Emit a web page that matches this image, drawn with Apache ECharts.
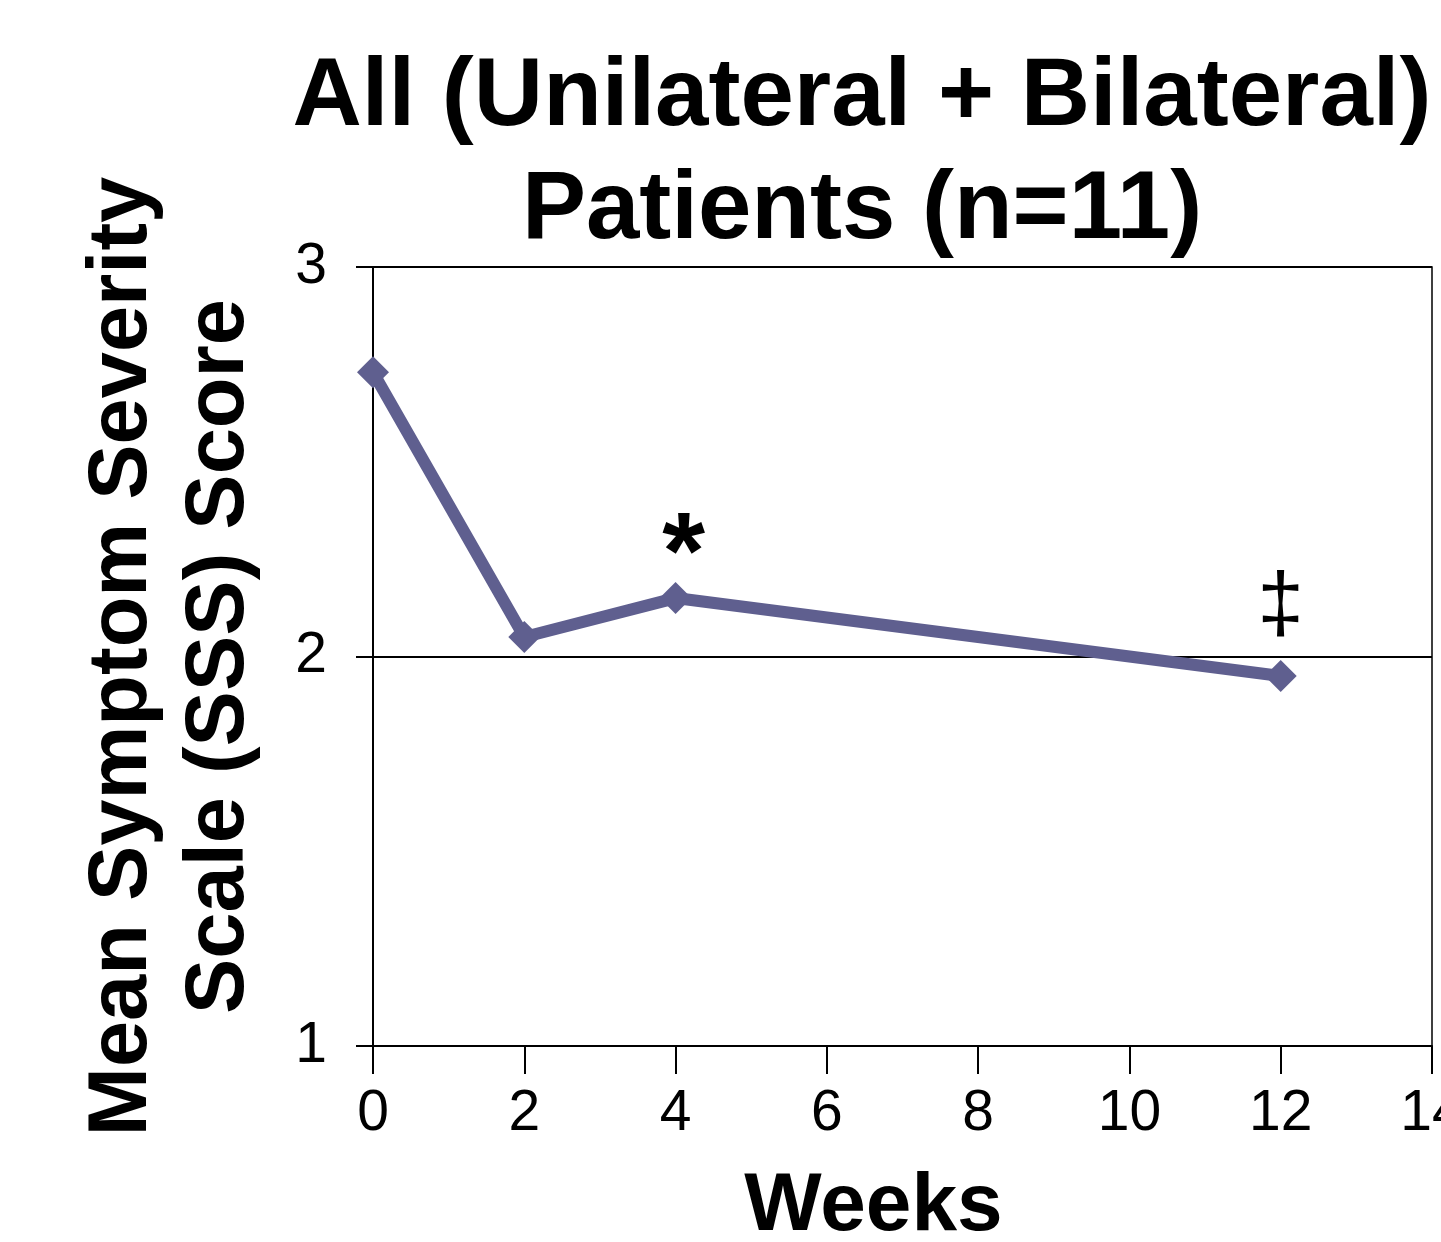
<!DOCTYPE html>
<html>
<head>
<meta charset="utf-8">
<style>
  html, body { margin: 0; padding: 0; background: #fff; }
  #chart { width: 1441px; height: 1242px; }
</style>
<script src="https://cdn.jsdelivr.net/npm/echarts@6/dist/echarts.min.js"></script>
</head>
<body>
<div id="chart"></div>
<script>
// ---- data ----
const titleLines = ['All (Unilateral + Bilateral)', 'Patients (n=11)'];
const xAxisTitle = 'Weeks';
const yAxisTitleLines = ['Mean Symptom Severity', 'Scale (SSS) Score'];
const weeks = [0, 2, 4, 12];
const sssScores = [2.73, 2.05, 2.15, 1.95];
const annotationWeeks = [4, 12];
const annotationMarks = ['*', '\u2021'];

// ---- chart ----
const FONT = '"Liberation Sans", Arial, Helvetica, sans-serif';
const LINE_COLOR = '#5F5F8F';

const annoStyles = {
  '*': { fontSize: 110, fontWeight: 'bold', offset: [8, -40] },
  '\u2021': { fontSize: 84, fontWeight: 'normal', offset: [0, -68] }
};

const seriesData = weeks.map((w, i) => {
  const k = annotationWeeks.indexOf(w);
  const item = { value: [w, sssScores[i]] };
  if (k >= 0) {
    const mark = annotationMarks[k];
    const st = annoStyles[mark];
    item.label = {
      show: true,
      formatter: mark,
      position: 'inside',
      offset: st.offset,
      color: '#000',
      fontFamily: FONT,
      fontSize: st.fontSize,
      fontWeight: st.fontWeight
    };
  }
  return item;
});

const chart = echarts.init(document.getElementById('chart'), null, { renderer: 'canvas' });
chart.setOption({
  backgroundColor: '#ffffff',
  animation: false,
  title: {
    text: titleLines.join('\n'),
    left: 862,
    top: 42,
    textAlign: 'center',
    padding: 0,
    textStyle: {
      fontFamily: FONT,
      fontSize: 96,
      fontWeight: 'bold',
      lineHeight: 113,
      color: '#000',
      align: 'center'
    }
  },
  grid: {
    left: 373,
    right: 9,
    top: 267,
    bottom: 196,
    show: true,
    borderColor: '#000',
    borderWidth: 1.5,
    containLabel: false,
    outerBoundsMode: 'none'
  },
  xAxis: {
    type: 'value',
    min: 0,
    max: 14,
    interval: 2,
    name: xAxisTitle,
    nameLocation: 'middle',
    nameGap: 120,
    nameTextStyle: {
      fontFamily: FONT,
      fontSize: 82,
      fontWeight: 'bold',
      color: '#000',
      lineHeight: 82,
      padding: [0, 58, 0, 0]
    },
    axisLine: { show: true, onZero: false, lineStyle: { color: '#000', width: 2 } },
    axisTick: { show: true, inside: false, length: 28, lineStyle: { color: '#000', width: 2 } },
    axisLabel: {
      margin: 40,
      fontFamily: FONT,
      fontSize: 57,
      color: '#000',
      showMaxLabel: true,
      showMinLabel: true,
      hideOverlap: false
    },
    splitLine: { show: false }
  },
  yAxis: {
    type: 'value',
    min: 1,
    max: 3,
    interval: 1,
    name: yAxisTitleLines.join('\n'),
    nameLocation: 'middle',
    nameRotate: 90,
    nameGap: 104,
    nameTextStyle: {
      fontFamily: FONT,
      fontSize: 83,
      fontWeight: 'bold',
      color: '#000',
      lineHeight: 97,
      align: 'center'
    },
    axisLine: { show: true, lineStyle: { color: '#000', width: 2 } },
    axisTick: { show: true, inside: false, length: 17, lineStyle: { color: '#000', width: 2 } },
    axisLabel: {
      margin: 46,
      fontFamily: FONT,
      fontSize: 57,
      color: '#000'
    },
    splitLine: { show: true, lineStyle: { color: '#000', width: 2 } }
  },
  series: [{
    type: 'line',
    data: seriesData,
    symbol: 'diamond',
    symbolSize: 32,
    showAllSymbol: true,
    clip: false,
    lineStyle: { color: LINE_COLOR, width: 12 },
    itemStyle: { color: LINE_COLOR, borderWidth: 0 },
    label: { show: false },
    emphasis: { disabled: true },
    z: 3
  }]
});
</script>
</body>
</html>
